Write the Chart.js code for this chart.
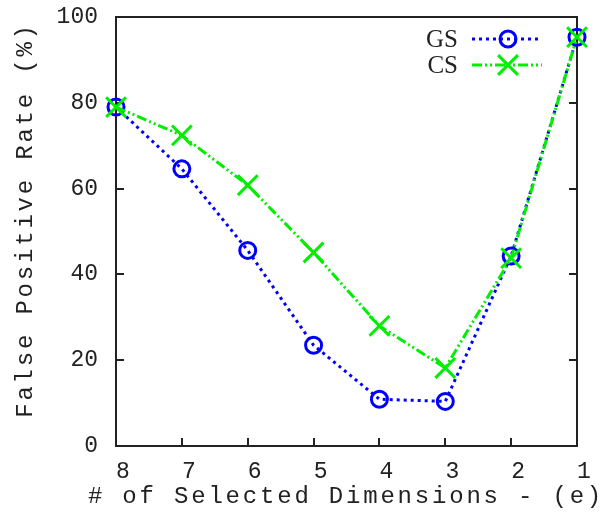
<!DOCTYPE html>
<html>
<head>
<meta charset="utf-8">
<script src="https://cdn.jsdelivr.net/npm/chart.js@4/dist/chart.umd.min.js"></script>
<style>
  html, body { margin: 0; padding: 0; background: #fff; }
  #wrap { width: 602px; height: 516px; }
</style>
</head>
<body>
<div id="wrap"><canvas id="fpr"></canvas></div>
<script>
// number of selected dimensions, counted down
var dims = ["8", "7", "6", "5", "4", "3", "2", "1"];
var gsRate = [79.0, 64.6, 45.6, 23.5, 10.9, 10.4, 44.3, 95.3];
var csRate = [79.0, 72.4, 60.8, 45.1, 28.0, 18.2, 43.8, 95.3];
var yTicks = [0, 20, 40, 60, 80, 100];

var INK = "#222";
var BLUE = "#0000ff";
var GREEN = "#00ee00";
var MONO = "'Liberation Mono', 'DejaVu Sans Mono', monospace";
var SERIF = "'Liberation Serif', 'DejaVu Serif', serif";

var series = [
  { label: "GS", data: gsRate, color: BLUE, dash: [3, 4], lw: 3, style: "circle", r: 8, order: 2 },
  { label: "CS", data: csRate, color: GREEN, dash: [10, 3, 2, 3, 2, 3], lw: 3, style: "crossRot", r: 14, order: 1 }
];

// gnuplot-like frame: box, inward ticks on left/right/bottom
var framePlugin = {
  id: "frame",
  beforeDatasetsDraw: function (chart) {
    var ctx = chart.ctx, a = chart.chartArea;
    var xs = chart.scales.x, ys = chart.scales.y;
    ctx.save();
    ctx.strokeStyle = INK;
    ctx.lineWidth = 2;
    ctx.strokeRect(a.left, a.top, a.right - a.left, a.bottom - a.top);
    ctx.beginPath();
    yTicks.forEach(function (v) {
      var y = Math.round(ys.getPixelForValue(v));
      ctx.moveTo(a.left, y); ctx.lineTo(a.left + 8, y);
      ctx.moveTo(a.right, y); ctx.lineTo(a.right - 8, y);
    });
    dims.forEach(function (d, i) {
      var x = Math.round(xs.getPixelForValue(i));
      ctx.moveTo(x, a.bottom); ctx.lineTo(x, a.bottom - 8);
    });
    ctx.stroke();
    ctx.restore();
  },
  afterDraw: function (chart) {
    var ctx = chart.ctx;
    ctx.save();
    ctx.fillStyle = INK;
    ctx.font = "24px " + MONO;
    ctx.letterSpacing = "2.8px";
    ctx.textAlign = "center";
    ctx.textBaseline = "middle";
    ctx.fillText("# of Selected Dimensions - (e)", 346, 497);
    ctx.translate(26, 220);
    ctx.rotate(-Math.PI / 2);
    ctx.fillText("False Positive Rate (%)", 0, 0);
    ctx.restore();

    // key in the upper right corner
    ctx.save();
    ctx.letterSpacing = "0px";
    ctx.font = "25px " + SERIF;
    ctx.textAlign = "right";
    ctx.textBaseline = "middle";
    series.forEach(function (s, i) {
      var y = 39 + i * 26;
      ctx.fillStyle = INK;
      ctx.fillText(s.label, 458, y + 1);
      ctx.strokeStyle = s.color;
      ctx.lineWidth = s.lw;
      ctx.setLineDash(s.dash);
      ctx.beginPath();
      ctx.moveTo(472, y); ctx.lineTo(542, y);
      ctx.stroke();
      ctx.setLineDash([]);
      ctx.lineWidth = 3;
      ctx.beginPath();
      if (s.style === "circle") {
        ctx.arc(508, y, s.r, 0, Math.PI * 2);
      } else {
        var h = s.r * Math.SQRT1_2;
        ctx.moveTo(508 - h, y - h); ctx.lineTo(508 + h, y + h);
        ctx.moveTo(508 - h, y + h); ctx.lineTo(508 + h, y - h);
      }
      ctx.stroke();
    });
    ctx.restore();
  }
};

new Chart(document.getElementById("fpr"), {
  type: "line",
  data: {
    labels: dims,
    datasets: series.map(function (s) {
      return {
        label: s.label,
        data: s.data,
        order: s.order,
        borderColor: s.color,
        borderWidth: s.lw,
        borderDash: s.dash,
        backgroundColor: "rgba(0,0,0,0)",
        pointStyle: s.style,
        pointRadius: s.r,
        pointBorderWidth: 3,
        pointBorderColor: s.color,
        pointBackgroundColor: "rgba(0,0,0,0)",
        tension: 0,
        fill: false,
        clip: false
      };
    })
  },
  options: {
    responsive: true,
    maintainAspectRatio: false,
    animation: false,
    layout: { autoPadding: false, padding: { top: 17, right: 25, left: 0, bottom: 0 } },
    plugins: { legend: { display: false }, tooltip: { enabled: false } },
    scales: {
      x: {
        type: "category",
        offset: false,
        grid: { display: false, drawTicks: false },
        border: { display: false },
        ticks: { color: INK, font: { family: MONO, size: 23 }, padding: 12, labelOffset: 7, maxRotation: 0 },
        afterFit: function (s) { s.height = 70; s.paddingLeft = 0; s.paddingRight = 0; }
      },
      y: {
        min: 0,
        max: 100,
        grid: { display: false, drawTicks: false },
        border: { display: false },
        ticks: { stepSize: 20, color: INK, font: { family: MONO, size: 23 }, padding: 18 },
        afterFit: function (s) { s.width = 116; s.paddingTop = 0; s.paddingBottom = 0; }
      }
    }
  },
  plugins: [framePlugin]
});
</script>
</body>
</html>
